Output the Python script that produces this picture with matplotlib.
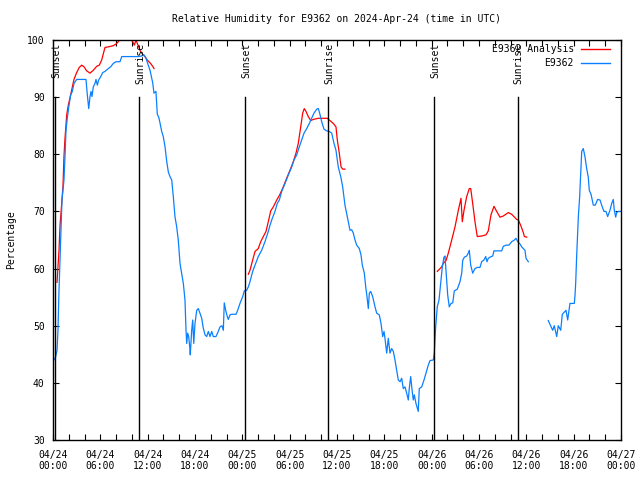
import numpy as np
import matplotlib
matplotlib.use("Agg")
import matplotlib.pyplot as plt

# hours since 04/24 00:00 UTC
nan = np.nan
obs_hours = [
    0.00, 0.13, 0.32, 0.51, 0.63, 0.76, 0.89, 1.01, 1.14, 1.39, 1.52, 1.65, 1.81, 1.99, 2.24, 2.45,
    2.66, 3.00, 3.64, 4.18, 4.35, 4.53, 4.69, 4.82, 4.94, 5.11, 5.32, 5.45, 5.62, 5.79, 6.05, 6.30,
    6.59, 7.01, 7.31, 7.64, 7.99, 8.49, 8.71, 9.76, 10.81, 11.24, 11.53, 11.79, 12.00, 12.30, 12.64,
    12.80, 13.05, 13.22, 13.40, 13.56, 13.78, 13.98, 14.20, 14.41, 14.62, 14.83, 15.05, 15.25, 15.46,
    15.68, 15.88, 16.10, 16.31, 16.52, 16.73, 16.86, 16.95, 17.07, 17.20, 17.33, 17.40, 17.58, 17.71,
    17.84, 18.00, 18.22, 18.42, 18.63, 18.85, 19.05, 19.27, 19.48, 19.69, 19.90, 20.12, 20.32, 20.66,
    20.95, 21.17, 21.42, 21.59, 21.71, 21.89, 22.09, 22.22, 22.44, 22.65, 23.20, 23.41, 23.70, 24.05,
    24.25, 24.55, 24.76, 24.97, 25.31, 25.61, 26.02, 26.45, 26.87, 27.29, 27.51, 27.80, 28.14, 28.43,
    28.69, 28.99, 29.41, 29.83, 30.26, 30.55, 30.89, 31.22, 31.52, 31.82, 32.16, 32.49, 32.79, 33.08,
    33.43, 33.63, 33.84, 34.06, 34.35, 34.69, 35.02, 35.33, 35.62, 35.87, 36.16, 36.47, 36.72, 37.01,
    37.30, 37.65, 37.86, 38.07, 38.28, 38.50, 38.83, 39.04, 39.21, 39.46, 39.64, 39.80, 39.97, 40.10,
    40.27, 40.52, 40.82, 41.03, 41.36, 41.58, 41.79, 41.96, 42.08, 42.30, 42.50, 42.72, 42.93, 43.14,
    43.35, 43.57, 43.77, 43.99, 44.20, 44.40, 44.62, 44.83, 45.04, 45.16, 45.34, 45.51, 45.67, 45.80,
    46.01, 46.30, 46.43, 46.74, 47.03, 47.28, 47.57, 47.79, 48.21, 48.33, 48.51, 48.71, 48.93, 49.14,
    49.35, 49.56, 49.69, 49.82, 50.03, 50.23, 50.45, 50.67, 50.87, 51.25, 51.59, 51.81, 51.93, 52.14,
    52.44, 52.64, 52.77, 52.95, 53.20, 53.49, 53.78, 54.12, 54.34, 54.63, 54.85, 55.01, 55.18, 55.39,
    55.74, 55.90, 56.32, 56.88, 57.08, 57.42, 57.80, 58.14, 58.48, 58.69, 58.91, 59.20, 59.41, 59.83,
    59.96, 60.25, 61.5,
    62.78, 63.34, 63.54, 63.85, 64.05, 64.36, 64.56, 65.03, 65.24, 65.53, 66.08, 66.17, 66.26, 66.38,
    66.59, 66.76, 66.89, 67.02, 67.22, 67.43, 67.65, 67.85, 67.98, 68.20, 68.49, 68.74, 69.04, 69.34,
    69.55, 69.84, 70.10, 70.31, 70.60, 70.82, 71.02, 71.15, 71.33, 71.45, 71.66, 72.00,
]
obs_rh = [
    43.8, 44.0, 44.5, 45.7, 49.2, 56.2, 61.5, 66.7, 72.0, 75.5, 79.6, 84.2, 86.3, 88.2, 90.4, 91.0,
    92.4, 93.1, 93.1, 93.1, 90.4, 88.0, 90.1, 91.0, 90.1, 91.8, 92.4, 93.1, 92.1, 93.0, 93.6, 94.3,
    94.5, 95.0, 95.3, 95.9, 96.2, 96.2, 97.1, 97.1, 97.1, 97.2, 97.4, 96.8, 95.9, 94.7, 92.5,
    90.7, 91.0, 87.0, 86.5, 85.5, 84.0, 83.1, 81.3, 78.8, 76.9, 76.1, 75.5, 72.6, 69.1,
    67.3, 65.0, 60.9, 59.2, 57.4, 54.5, 49.2, 46.9, 48.7, 48.1, 46.3, 44.9, 49.2, 51.0,
    46.9, 50.4, 52.7, 53.0, 52.2, 51.3, 49.6, 48.4, 48.1, 49.0, 48.1, 49.0, 48.1, 48.1,
    49.0, 49.8, 50.0, 49.2, 54.0, 52.7, 51.6, 51.1, 51.9, 52.0, 52.0, 52.7, 53.9, 55.1,
    56.1, 56.2, 56.8, 57.7, 59.5, 60.6, 62.1, 63.2, 64.7, 66.5, 67.6, 68.8, 70.0, 71.4,
    72.0, 73.5, 74.9, 76.4, 77.8, 79.0, 79.9, 81.3, 82.5, 83.7, 84.5, 85.4, 86.3, 87.2,
    87.9, 88.0, 87.0, 85.7, 84.4, 84.1, 84.0, 83.7, 81.9, 80.7, 77.8, 76.1, 74.3, 71.1,
    69.1, 66.7, 66.8, 66.2, 65.0, 64.1, 63.5, 62.4, 60.6, 59.2, 56.8, 55.1, 53.0, 55.7,
    56.0, 55.1, 53.3, 52.2, 51.9, 50.4, 48.1, 49.0, 47.8, 45.2, 47.8, 45.2, 46.0, 45.5,
    44.0, 42.2, 40.5, 40.2, 40.8, 39.0, 39.3, 38.2, 37.0, 39.0, 41.1, 38.8, 37.0, 37.9,
    36.4, 35.0, 39.0, 39.3, 40.5, 41.7, 43.1, 43.9, 44.0, 45.2, 49.8, 53.3, 54.5, 57.4,
    60.3, 62.0, 62.2, 59.7, 55.4, 53.3, 53.9, 54.0, 56.1, 56.4, 57.7, 59.2, 61.4, 62.0,
    62.2, 62.7, 63.2, 60.6, 59.2, 60.0, 60.2, 60.2, 61.2, 61.5, 62.1, 61.2, 61.8, 62.0,
    62.2, 63.1, 63.1, 63.1, 63.9, 64.1, 64.1, 64.7, 65.0, 65.3, 64.7, 64.3, 63.8, 63.2,
    61.8, 61.2, nan,
    50.9, 49.2, 50.0, 48.1, 50.0, 49.2, 52.0, 52.7, 51.0, 53.9, 53.9, 55.3, 57.6, 62.2,
    69.0, 72.6, 76.7, 80.5, 81.0, 79.6, 77.5, 76.0, 73.7, 73.0, 71.1, 71.1, 72.1, 72.0,
    71.1, 70.0, 70.0, 69.1, 70.2, 71.4, 72.1, 70.2, 69.0, 69.8, 70.0, 70.0,
]

ana_hours = [
    0.51, 0.76, 0.89, 1.14, 1.27, 1.39, 1.52, 1.74, 1.94, 2.24, 2.50, 2.66, 3.00, 3.33, 3.64, 3.93,
    4.27, 4.69, 5.11, 5.54, 5.87, 6.17, 6.59, 7.01, 7.64, 7.99, 8.28, 8.58, 9.13, 9.67, 10.10, 10.31,
    10.52, 10.69, 10.86, 11.03, 11.24, 11.45, 11.66, 11.95, 12.30, 12.64, 12.80, 18.0,
    24.76, 24.97, 25.31, 25.61, 26.02, 26.33, 26.66, 27.00, 27.29, 27.60, 27.93, 28.36, 28.77, 29.19,
    29.62, 30.04, 30.46, 30.80, 31.09, 31.40, 31.65, 31.85, 32.07, 32.36, 32.67, 33.00, 33.63, 34.77,
    35.11, 35.53, 35.87, 36.04, 36.29, 36.51, 36.72, 37.01, 42.0,
    48.71, 49.27, 49.47, 49.82, 50.11, 50.54, 50.96, 51.38, 51.72, 51.88, 52.10, 52.44, 52.77, 52.95,
    53.20, 53.49, 53.78, 54.34, 54.89, 55.18, 55.52, 55.90, 56.24, 56.66, 57.08, 57.71, 58.14, 58.78,
    58.99, 59.33, 59.62, 59.75, 60.05,
]
ana_rh = [
    57.6, 63.2, 67.6, 72.0, 74.6, 79.6, 82.8, 86.9, 88.6, 90.4, 92.1, 93.1, 94.3, 95.2, 95.6, 95.3,
    94.6, 94.2, 94.7, 95.4, 95.6, 96.5, 98.7, 98.8, 99.0, 99.3, 99.7, 100.3, 100.8, 100.6, 99.7, 99.1,
    100.0, 99.4, 98.8, 98.2, 97.7, 97.4, 97.1, 96.5, 96.0, 95.4, 95.0, nan,
    59.0, 59.7, 61.5, 63.0, 63.5, 64.7, 65.6, 66.5, 68.2, 70.1, 70.8, 72.0, 73.0, 74.3,
    75.8, 77.2, 78.7, 80.2, 81.9, 84.8, 87.2, 88.0, 87.5, 86.6, 85.9, 86.1, 86.3, 86.3,
    85.9, 85.4, 84.8, 82.5, 80.2, 77.8, 77.4, 77.4, nan,
    59.5, 60.3, 60.9, 61.4, 62.7, 65.0, 67.3, 70.2, 72.3, 68.2, 70.2, 72.6, 74.0, 74.0,
    71.4, 68.2, 65.6, 65.7, 65.9, 66.6, 69.4, 70.9, 70.0, 69.0, 69.2, 69.8, 69.5, 68.6,
    68.5, 67.4, 66.3, 65.6, 65.5,
]

sun_hours = [0.25, 10.9, 24.3, 34.85, 48.3, 58.9]
sun_labels = ["Sunset", "Sunrise", "Sunset", "Sunrise", "Sunset", "Sunrise"]

tick_hours = list(range(0, 73, 2))
day_names = ["04/24", "04/25", "04/26", "04/27"]
tick_labels = []
for h in tick_hours:
    if h % 6 == 0:
        tick_labels.append("%s\n%02d:00" % (day_names[h // 24], h % 24))
    else:
        tick_labels.append("")

plt.rcParams['font.family'] = ['DejaVu Sans Mono']
plt.rcParams['font.size'] = 7

fig = plt.figure(figsize=(6.4, 4.8), dpi=100)
ax = fig.add_axes([53 / 640, 40 / 480, 568 / 640, 400 / 480])

ax.plot(ana_hours, ana_rh, color='#ff0000', lw=0.9)
ax.plot(obs_hours, obs_rh, color='#0a80ff', lw=0.9)

for h, lab in zip(sun_hours, sun_labels):
    ax.plot([h, h], [30, 90], color='black', lw=1.0)
    ax.text(h + 0.15, 99.5, lab, rotation=90, ha='center', va='top', fontsize=7)

ax.set_xlim(0, 72)
ax.set_ylim(30, 100)
ax.set_xticks(tick_hours)
ax.set_xticklabels(tick_labels)
ax.set_yticks(range(30, 101, 10))
ax.tick_params(direction='in', length=4, width=0.8, top=True, right=True, pad=6)
ax.tick_params(axis='x', pad=7)
for sp in ax.spines.values():
    sp.set_linewidth(1.0)

ax.set_title("Relative Humidity for E9362 on 2024-Apr-24 (time in UTC)", fontsize=7, pad=13)
ax.set_ylabel("Percentage", fontsize=7, labelpad=8)

# legend, right-aligned text like gnuplot
ax.text(0.917, 0.9775, "E9362 Analysis", transform=ax.transAxes, ha='right', va='center')
ax.plot([0.930, 0.981], [0.9775, 0.9775], transform=ax.transAxes, color='#ff0000', lw=1.0)
ax.text(0.917, 0.9425, "E9362", transform=ax.transAxes, ha='right', va='center')
ax.plot([0.930, 0.981], [0.9425, 0.9425], transform=ax.transAxes, color='#0a80ff', lw=1.0)

fig.savefig("out.png", dpi=100)
